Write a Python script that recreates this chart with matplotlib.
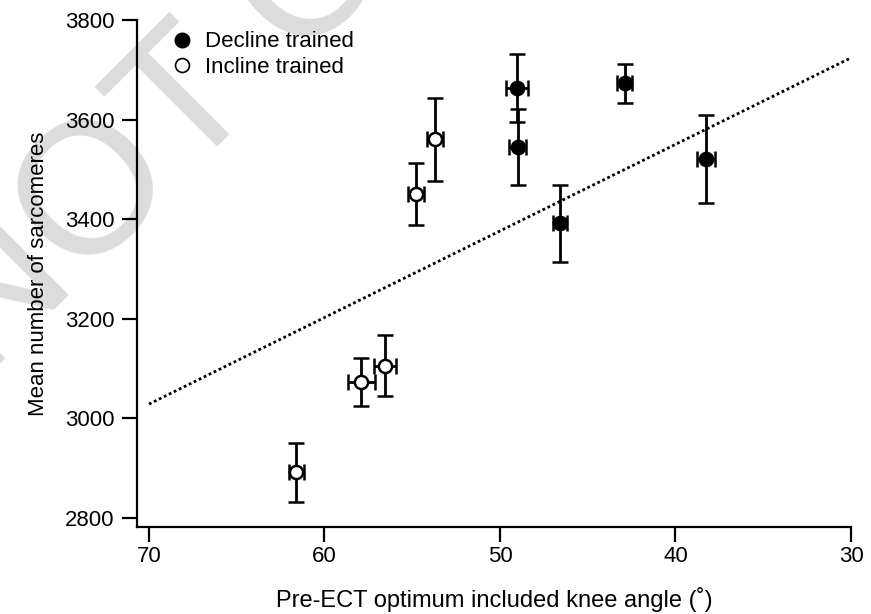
import matplotlib
matplotlib.use("Agg")
import matplotlib.pyplot as plt
from matplotlib.lines import Line2D

plt.rcParams['font.family'] = ['Liberation Sans', 'DejaVu Sans']

# Incline-trained group: optimum knee angle (deg) and sarcomere counts
incline_angle = [61.6, 57.9, 56.55, 54.8, 53.7]
incline_angle_err = [0.43, 0.76, 0.6, 0.45, 0.45]
incline_sarc = [2891, 3073, 3105, 3450, 3560]
incline_sarc_err = [59, 48, 61, 62, 84]

# Decline-trained group
decline_angle = [49.05, 49.0, 46.6, 42.9, 38.26]
decline_angle_err = [0.63, 0.47, 0.4, 0.45, 0.5]
decline_sarc = [3663, 3545, 3391, 3673, 3521]
decline_sarc_err = [69, 77, 77, 39, 89]

# Fitted trend line end points
trend_angle = [70, 30]
trend_sarc = [3028, 3724]

xticks = [70, 60, 50, 40, 30]
yticks = [2800, 3000, 3200, 3400, 3600, 3800]

W, H = 871, 614
fig = plt.figure(figsize=(W / 100, H / 100), dpi=100)
ax = fig.add_axes([137 / W, 1 - 527 / H, (851 - 137) / W, (527 - 20) / H])
ax.patch.set_alpha(0)

# background watermark
fig.text(-15 / W, 1 - 380 / H, "NOT COPY", fontsize=135, color="#dcdcdc",
         rotation=45, rotation_mode="anchor", ha="left", va="baseline",
         zorder=-1)

ebkw = dict(ecolor="black", elinewidth=2.0, capsize=6, capthick=2.0,
            linestyle="none", markersize=9.5, markeredgewidth=1.8,
            markeredgecolor="black", zorder=3)

ax.plot(trend_angle, trend_sarc, color="black", lw=2.0,
        linestyle=(0, (1, 1.0)), zorder=2)

ax.errorbar(decline_angle, decline_sarc, yerr=decline_sarc_err,
            xerr=decline_angle_err, fmt="o", markerfacecolor="black",
            label="Decline trained", **ebkw)
ax.errorbar(incline_angle, incline_sarc, yerr=incline_sarc_err,
            xerr=incline_angle_err, fmt="o", markerfacecolor="white",
            label="Incline trained", **ebkw)

ax.set_xlim(70.68, 30)
ax.set_ylim(2781, 3800)
ax.set_xticks(xticks)
ax.set_yticks(yticks)

for s in ["top", "right"]:
    ax.spines[s].set_visible(False)
for s in ["left", "bottom"]:
    ax.spines[s].set_linewidth(1.6)

ax.tick_params(direction="out", length=11, width=1.6, labelsize=16,
               colors="black")
ax.tick_params(axis="y", pad=5)
ax.tick_params(axis="x", pad=3)

ax.set_xlabel("Pre-ECT optimum included knee angle (˚)", fontsize=17,
              labelpad=14)
ax.set_ylabel("Mean number of sarcomeres", fontsize=16, labelpad=12)

# legend with markers only
handles = [
    Line2D([], [], marker="o", linestyle="none", markerfacecolor="black",
           markeredgecolor="black", markersize=10, markeredgewidth=1.5),
    Line2D([], [], marker="o", linestyle="none", markerfacecolor="white",
           markeredgecolor="black", markersize=10, markeredgewidth=1.2),
]
ax.legend(handles, ["Decline trained", "Incline trained"], loc="upper left",
          bbox_to_anchor=(0.035, 0.995), frameon=False, fontsize=16,
          handletextpad=0.55, labelspacing=0.2, handlelength=1.0,
          borderaxespad=0)

fig.savefig("out.png", dpi=100)
